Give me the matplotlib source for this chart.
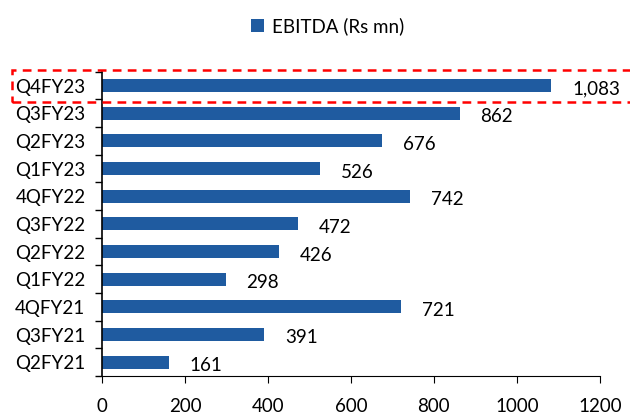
import numpy as np
import matplotlib.pyplot as plt
from matplotlib.patches import Rectangle
from matplotlib.transforms import blended_transform_factory

plt.rcParams['font.family'] = ['Lato', 'DejaVu Sans']

quarters = ['Q2FY21', 'Q3FY21', '4QFY21', 'Q1FY22', 'Q2FY22', 'Q3FY22',
            '4QFY22', 'Q1FY23', 'Q2FY23', 'Q3FY23', 'Q4FY23']
ebitda = [161, 391, 721, 298, 426, 472, 742, 526, 676, 862, 1083]
xticks = [0, 200, 400, 600, 800, 1000, 1200]

bar_col = '#1f5ba0'
fs = 13.5

fig = plt.figure(figsize=(6.3, 4.15), dpi=100)
ax = fig.add_axes([0.162, 0.094, 0.790, 0.733])

pos = np.arange(len(quarters))
bars = ax.barh(pos, ebitda, height=0.47, color=bar_col, label='EBITDA (Rs mn)')

for p, v in zip(pos, ebitda):
    ax.annotate(f'{v:,}', xy=(v, p), xytext=(15, -2.5), textcoords='offset points',
                va='center', ha='left', fontsize=fs)

ax.set_xlim(0, 1200)
ax.set_ylim(-0.5, len(quarters) - 0.5)
ax.set_xticks(xticks)
ax.set_yticks(pos)
ax.set_yticklabels(quarters)
ax.set_yticks(np.arange(-0.5, len(quarters), 1), minor=True)
ax.tick_params(axis='y', which='major', length=0, labelsize=fs, pad=12)
ax.tick_params(axis='y', which='minor', length=5, direction='out', width=1)
ax.tick_params(axis='x', length=5, direction='out', labelsize=fs, pad=11)
for s in ['top', 'right']:
    ax.spines[s].set_visible(False)
ax.spines['left'].set_linewidth(1.2)
ax.spines['bottom'].set_linewidth(0.8)

# dashed highlight around the latest quarter
tr = blended_transform_factory(fig.transFigure, ax.transData)
top = len(quarters) - 1
box = Rectangle((0.019, top - 0.6), 1.0, 1.15, transform=tr, fill=False,
                edgecolor='red', linestyle=(0, (3.5, 2.5)), linewidth=1.8, clip_on=False)
fig.add_artist(box)

fig.legend(handles=[bars], loc='upper center', bbox_to_anchor=(0.52, 1.0),
           frameon=False, fontsize=fs, handlelength=0.7, handleheight=0.7,
           handletextpad=0.4)

fig.savefig('out.png', dpi=100)
